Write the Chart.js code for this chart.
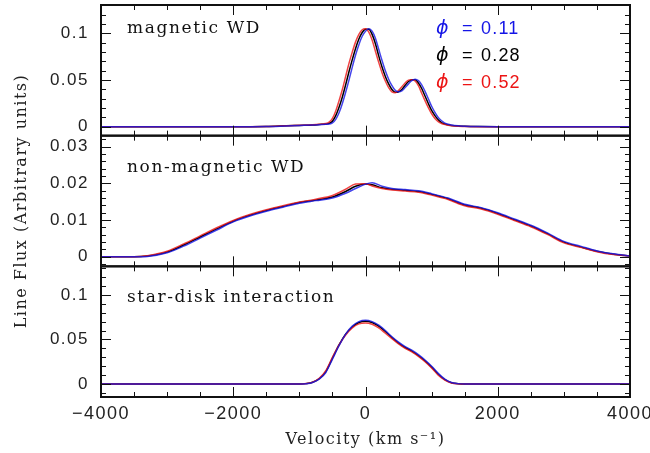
<!DOCTYPE html>
<html><head><meta charset="utf-8">
<script src="https://cdn.jsdelivr.net/npm/chart.js@4/dist/chart.umd.min.js"></script>
<style>html,body{margin:0;padding:0;background:#fff;}</style>
</head><body>
<canvas id="c" width="650" height="453"></canvas>
<script>
// ---------- data ----------
const phaseValues = ['0.11', '0.28', '0.52'];
const panelTitles = ['magnetic WD', 'non-magnetic WD', 'star-disk interaction'];
const xTickValues = [-4000, -2000, 0, 2000, 4000];
const yTicksMag = [0, 0.05, 0.1];
const yTicksNon = [0, 0.01, 0.02, 0.03];
const yTicksSD = [0, 0.05, 0.1];

// magnetic WD panel
const velMag = [-4000,-2000,-1500,-1200,-1000,-800,-700,-600,-550,-500,-450,-400,-350,-300,-250,-200,-150,-100,-50,0,50,100,150,200,250,300,350,400,450,500,550,600,650,700,750,800,850,900,950,1000,1050,1100,1150,1200,1300,1400,1500,1700,2000,4000];
const magP011 = [0,0,0.0002,0.0009,0.0014,0.0018,0.0022,0.0027,0.003,0.0042,0.008,0.015,0.025,0.037,0.050,0.064,0.077,0.088,0.097,0.1025,0.105,0.1025,0.095,0.083,0.071,0.060,0.051,0.044,0.039,0.0375,0.0385,0.042,0.046,0.0495,0.051,0.0495,0.045,0.038,0.030,0.022,0.0155,0.010,0.0065,0.004,0.002,0.001,0.0006,0.0002,0,0];
const magP028 = [0,0,0.0003,0.001,0.0015,0.002,0.0025,0.003,0.0037,0.006,0.012,0.021,0.032,0.045,0.059,0.072,0.084,0.094,0.101,0.1045,0.1045,0.099,0.089,0.076,0.064,0.054,0.046,0.040,0.037,0.0375,0.040,0.0445,0.0485,0.0505,0.0505,0.047,0.041,0.033,0.025,0.0175,0.012,0.0075,0.0045,0.003,0.0015,0.0008,0.0005,0.0002,0,0];
const magP052 = [0,0,0.0004,0.0011,0.0016,0.0022,0.0027,0.0035,0.005,0.009,0.017,0.028,0.040,0.054,0.068,0.080,0.091,0.099,0.104,0.105,0.1015,0.093,0.081,0.069,0.058,0.049,0.042,0.0375,0.0365,0.039,0.043,0.047,0.050,0.0505,0.049,0.044,0.036,0.028,0.0205,0.014,0.009,0.0055,0.0035,0.0025,0.0012,0.0006,0.0004,0.0001,0,0];

// non-magnetic WD panel
const velNon = [-4000,-3500,-3300,-3000,-2750,-2500,-2250,-2000,-1750,-1500,-1250,-1000,-750,-500,-300,-150,0,100,250,400,600,800,1000,1250,1500,1750,2000,2250,2500,2750,3000,3250,3500,3750,4000];
const nonP011 = [0,0,0.0001,0.0011,0.0029,0.0051,0.0073,0.0095,0.0111,0.0124,0.0135,0.0146,0.0153,0.0160,0.0173,0.0186,0.0198,0.0202,0.0192,0.0186,0.0183,0.0180,0.0172,0.0160,0.0143,0.0134,0.0120,0.0103,0.0086,0.0065,0.0042,0.0029,0.0016,0.0008,0.0002];
const nonP028 = [0,0,0.0002,0.0013,0.0032,0.0054,0.0076,0.0097,0.0113,0.0126,0.0137,0.0148,0.0155,0.0163,0.0178,0.0192,0.0198,0.0196,0.0188,0.0184,0.0181,0.0178,0.0170,0.0158,0.0141,0.0132,0.0118,0.0101,0.0084,0.0063,0.0040,0.0027,0.0015,0.0007,0.0002];
const nonP052 = [0,0,0.0003,0.0015,0.0035,0.0057,0.0079,0.0099,0.0115,0.0128,0.0139,0.0149,0.0157,0.0167,0.0184,0.0198,0.0199,0.0193,0.0186,0.0182,0.0179,0.0176,0.0168,0.0156,0.0139,0.0130,0.0116,0.0099,0.0082,0.0061,0.0038,0.0026,0.0014,0.0006,0.0002];

// star-disk interaction panel
const velSD = [-4000,-1000,-900,-800,-700,-600,-500,-400,-300,-200,-100,0,100,200,300,400,500,600,700,800,900,1000,1100,1200,1300,1400,1500,4000];
const sdP011 = [0,0,0.0004,0.0018,0.0055,0.013,0.028,0.043,0.056,0.065,0.070,0.0715,0.070,0.066,0.060,0.053,0.047,0.042,0.038,0.033,0.027,0.020,0.012,0.0055,0.0017,0.0005,0,0];
const sdP028 = [0,0,0.0005,0.002,0.006,0.014,0.029,0.044,0.056,0.064,0.069,0.0705,0.069,0.065,0.059,0.052,0.046,0.041,0.037,0.032,0.026,0.019,0.011,0.005,0.0015,0.0004,0,0];
const sdP052 = [0,0,0.0006,0.0022,0.0065,0.015,0.030,0.044,0.055,0.063,0.0675,0.0685,0.067,0.063,0.057,0.051,0.045,0.040,0.036,0.031,0.025,0.018,0.010,0.0045,0.0013,0.0003,0,0];

// ---------- styling / build ----------
const phaseColors = ['#1414e6', '#000000', '#ec1414'];
const lineColors = ['rgba(20,20,230,0.8)', '#000000', 'rgba(236,20,20,0.8)'];
const panels = [
  { id: 'y1', vel: velMag, series: [magP011, magP028, magP052], ticks: yTicksMag, min: -0.0095, max: 0.1305, minor: 0.01, ratio: 5, weight: 3, labelDy: 24 },
  { id: 'y2', vel: velNon, series: [nonP011, nonP028, nonP052], ticks: yTicksNon, min: -0.0026, max: 0.0330, minor: 0.002, ratio: 5, weight: 2, labelDy: 32 },
  { id: 'y3', vel: velSD, series: [sdP011, sdP028, sdP052], ticks: yTicksSD, min: -0.0145, max: 0.1320, minor: 0.01, ratio: 5, weight: 1, labelDy: 31 }
];
const xMinor = 500, xRatio = 4;
const drawOrder = [0, 2, 1]; // blue on top, then red, then black

const datasets = [];
panels.forEach((p, pi) => {
  drawOrder.forEach(si => {
    const vals = p.series[si];
    datasets.push({
      label: panelTitles[pi] + ' \u03D5=' + phaseValues[si],
      data: p.vel.map((v, i) => ({ x: v, y: vals[i] })),
      yAxisID: p.id,
      borderColor: lineColors[si],
      borderWidth: 1.5,
      pointRadius: 0,
      cubicInterpolationMode: 'monotone',
      fill: false
    });
  });
});

const tickFont = { family: 'Liberation Sans', size: 17 };
const scales = {
  x: {
    type: 'linear', position: 'bottom', min: -4000, max: 4000,
    grid: { display: false, drawTicks: false }, border: { display: false },
    afterBuildTicks: s => { s.ticks = xTickValues.map(v => ({ value: v })); },
    ticks: { color: '#222', font: { family: 'Liberation Sans', size: 18 }, padding: 6, maxRotation: 0,
      callback: v => String(v).replace('-', '\u2212') },
    title: { display: true, text: 'Velocity (km s\u207B\u00B9)', color: '#222',
      font: { family: 'DejaVu Serif', size: 16 }, padding: { top: 0, bottom: 4 } },
    afterFit: s => { s.height = 56; s.paddingLeft = 0; s.paddingRight = 0; }
  }
};
panels.forEach(p => {
  scales[p.id] = {
    type: 'linear', position: 'left', stack: 'panels', stackWeight: 1, weight: p.weight,
    min: p.min, max: p.max,
    grid: { display: false, drawTicks: false }, border: { display: false },
    afterBuildTicks: s => { s.ticks = p.ticks.map(v => ({ value: v })); },
    ticks: { color: '#222', font: tickFont, padding: 12, callback: v => String(v) },
    title: p.id === 'y2' ? { display: true, text: 'Line Flux (Arbitrary units)', color: '#222',
      font: { family: 'DejaVu Serif', size: 16 }, padding: { top: 12, bottom: 0 } } : { display: false },
    afterFit: s => { s.width = 101; s.paddingTop = 0; s.paddingBottom = 0; }
  };
});

const spacingPlugin = {
  id: 'spacing',
  beforeUpdate(chart) { chart.ctx.letterSpacing = '1.5px'; }
};

const framePlugin = {
  id: 'frames',
  afterDatasetsDraw(chart) {
    const ctx = chart.ctx, xs = chart.scales.x, area = chart.chartArea;
    ctx.save();
    ctx.strokeStyle = '#111';
    panels.forEach((p, pi) => {
      const ys = chart.scales[p.id];
      const top = ys.top, bottom = ys.bottom, left = area.left, right = area.right;
      ctx.lineWidth = 1;
      ctx.beginPath();
      const kx0 = Math.ceil(xs.min / xMinor), kx1 = Math.floor(xs.max / xMinor);
      for (let k = kx0; k <= kx1; k++) {
        const px = Math.round(xs.getPixelForValue(k * xMinor)) + 0.5;
        const len = (k % xRatio === 0) ? 10 : 5;
        ctx.moveTo(px, bottom); ctx.lineTo(px, bottom - len);
        ctx.moveTo(px, top); ctx.lineTo(px, top + len);
      }
      const ky0 = Math.ceil(p.min / p.minor - 1e-6), ky1 = Math.floor(p.max / p.minor + 1e-6);
      for (let k = ky0; k <= ky1; k++) {
        const py = Math.round(ys.getPixelForValue(k * p.minor)) + 0.5;
        const len = (k % p.ratio === 0) ? 10 : 5;
        ctx.moveTo(left, py); ctx.lineTo(left + len, py);
        ctx.moveTo(right, py); ctx.lineTo(right - len, py);
      }
      ctx.stroke();
      ctx.lineWidth = 2;
      ctx.strokeRect(left, top, right - left, bottom - top);

      ctx.fillStyle = '#111';
      ctx.font = '17px "DejaVu Serif"';
      ctx.letterSpacing = '1.6px';
      ctx.textAlign = 'left';
      ctx.textBaseline = 'middle';
      ctx.fillText(panelTitles[pi], left + 26, top + p.labelDy);
    });
    const y1 = chart.scales.y1;
    phaseValues.forEach((ph, i) => {
      const cy = y1.top + 24 + i * 27;
      const lx = area.left + 335;
      ctx.fillStyle = phaseColors[i];
      ctx.textBaseline = 'middle';
      ctx.letterSpacing = '0px';
      ctx.font = 'italic 19px "DejaVu Sans"';
      ctx.fillText('\u03D5', lx, cy);
      ctx.font = '18px "Liberation Sans"';
      ctx.fillText('=', lx + 26, cy);
      ctx.letterSpacing = '1.2px';
      ctx.fillText(ph, lx + 45, cy);
    });
    ctx.restore();
  }
};

new Chart(document.getElementById('c'), {
  type: 'line',
  data: { datasets },
  options: {
    responsive: false, animation: false, devicePixelRatio: 1,
    layout: { padding: { top: 5, right: 20, left: 0, bottom: 0 } },
    plugins: { legend: { display: false }, tooltip: { enabled: false } },
    scales
  },
  plugins: [spacingPlugin, framePlugin]
});
</script>
</body></html>
